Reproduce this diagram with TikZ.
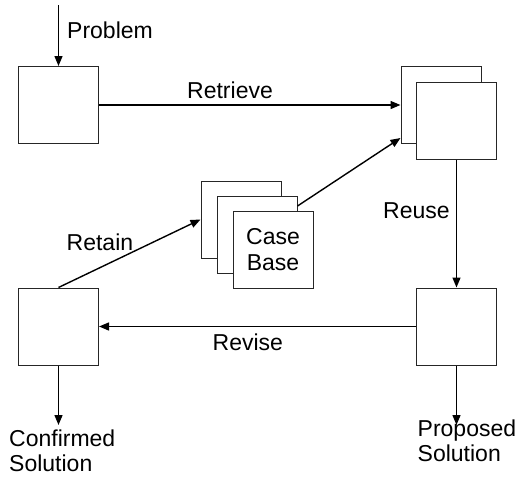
\documentclass[tikz,border=0pt]{standalone}
\usepackage{fontspec}
\setmainfont{Liberation Sans}
\usetikzlibrary{arrows.meta}
\begin{document}
\begin{tikzpicture}[x=1pt,y=-1pt,
  box/.style={draw=black!85, line width=1pt, fill=white, minimum width=80pt, minimum height=77pt, inner sep=0pt, font=\fontsize{23}{26}\selectfont, align=center},
  conn/.style={line width=1.4pt, -{Triangle[length=10pt,width=8pt]}},
  plain/.style={line width=1.4pt},
  lbl/.style={anchor=base west, inner sep=0pt, font=\fontsize{23}{26}\selectfont},
  mlbl/.style={anchor=north west, inner sep=0pt, font=\fontsize{23}{25}\selectfont, align=left}]
\useasboundingbox (0,0) rectangle (520,480);
% boxes
\node[box] (inp) at (58.5,105) {};
\node[box] (back) at (441,105) {};
\node[box] (front) at (456.5,120.5) {};
\node[box] (ca) at (241,219.5) {};
\node[box] (cb) at (257,235) {};
\node[box] (cc) at (273,250) {Case\\Base};
\node[box] (ll) at (58.5,326.5) {};
\node[box] (lr) at (456.5,326.5) {};
% free ends
\coordinate (ptop) at (58.5,5);
\coordinate (cend) at (58.5,425);
\coordinate (pend) at (456.5,425);
% connectors
\draw[conn] (ptop) -- (inp.north);
\draw[conn] (inp.east) -- (back.west);
\draw[conn] ([yshift=-10pt]cb.north east) -- ([yshift=6pt]back.south west);
\draw[conn] (front.south) -- (lr.north);
\draw[conn] (lr.west) -- (ll.east);
\draw[conn] (ll.north) -- (ca.west);
\draw[conn] (ll.south) -- (cend);
\draw[conn] (lr.south) -- (pend);
% labels
\node[lbl] (lprob) at (67,38) {Problem};
\node[lbl] (lret) at (187,98) {Retrieve};
\node[lbl] (lretain) at (66.5,250) {Retain};
\node[lbl] (lreuse) at (383,218) {Reuse};
\node[lbl] (lrev) at (212.5,350) {Revise};
\node[mlbl] (lconf) at (9,430) {Confirmed\\Solution};
\node[mlbl] (lprop) at (417.5,420) {Proposed\\Solution};
\end{tikzpicture}
\end{document}
